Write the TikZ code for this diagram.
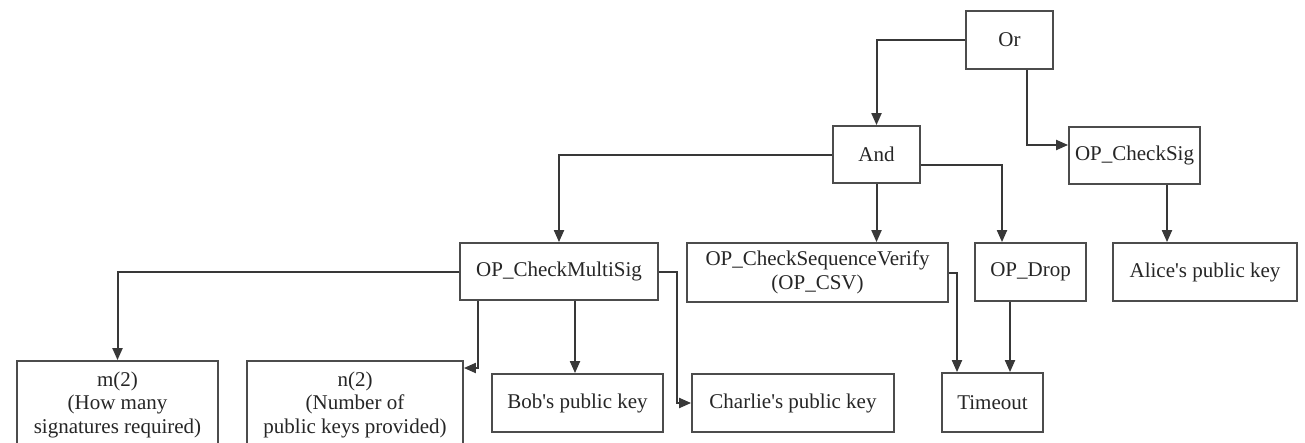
\documentclass[tikz,border=0pt]{standalone}
\usepackage{fontspec}
\setmainfont{Liberation Serif}
\usetikzlibrary{arrows.meta}

\begin{document}
\begin{tikzpicture}[x=1pt,y=-1pt,
  op/.style={draw=black!70, line width=1.8pt, fill=white, text=black!85, align=center, inner sep=0pt, font=\fontsize{21}{23.5}\selectfont},
  link/.style={draw=black!78, line width=2pt, -{Triangle[length=12pt,width=10pt]}}]
\useasboundingbox (0,0) rectangle (1305,442);
% script tree
\node[op, minimum width=87pt, minimum height=58pt] (or) at (1009.5,40) {Or};
\node[op, minimum width=87pt, minimum height=57pt] (and) at (876.5,154.5) {And};
\node[op, minimum width=131pt, minimum height=57pt] (chksig) at (1134.5,155.5) {OP\_CheckSig};
\node[op, minimum width=198pt, minimum height=57pt] (multisig) at (559,271.5) {OP\_CheckMultiSig};
\node[op, minimum width=261pt, minimum height=59pt] (csv) at (817.5,272.5) {OP\_CheckSequenceVerify\\(OP\_CSV)};
\node[op, minimum width=111pt, minimum height=58pt] (drop) at (1030.5,272) {OP\_Drop};
\node[op, minimum width=184pt, minimum height=58pt] (alice) at (1205,272) {Alice\textquotesingle s public key};
\node[op, minimum width=201pt, minimum height=87pt] (mtwo) at (117.5,404.5) {m(2)\\(How many\\signatures required)};
\node[op, minimum width=216pt, minimum height=87pt] (ntwo) at (355,404.5) {n(2)\\(Number of\\public keys provided)};
\node[op, minimum width=171pt, minimum height=58pt] (bob) at (577.5,403) {Bob\textquotesingle s public key};
\node[op, minimum width=202pt, minimum height=58pt] (charlie) at (793,403) {Charlie\textquotesingle s public key};
\node[op, minimum width=101pt, minimum height=59pt] (timeout) at (992.5,402.5) {Timeout};
% edges
\draw[link] (or.west) -| (and.north);
\draw[link] ([xshift=17.5pt]or.south) |- ([yshift=10.5pt]chksig.west);
\draw[link] (and.west) -| (multisig.north);
\draw[link] (and.south) -- (and.south |- csv.north);
\draw[link] ([yshift=-10.5pt]and.east) -| ([xshift=-28.5pt]drop.north);
\draw[link] ([xshift=32.5pt]chksig.south) -- ([xshift=-38pt]alice.north);
\draw[link] (multisig.west) -| (mtwo.north);
\draw[link] ([xshift=-81pt]multisig.south) |- ([yshift=36.5pt]ntwo.east);
\draw[link] ([xshift=16pt]multisig.south) -- ([xshift=-2.5pt]bob.north);
\draw[link] (multisig.east) -- ++(18,0) |- (charlie.west);
\draw[link] (csv.east) -| ([xshift=-35.5pt]timeout.north);
\draw[link] ([xshift=-20.5pt]drop.south) -- ([xshift=-20.5pt]drop.south |- timeout.north);
\end{tikzpicture}
\end{document}
